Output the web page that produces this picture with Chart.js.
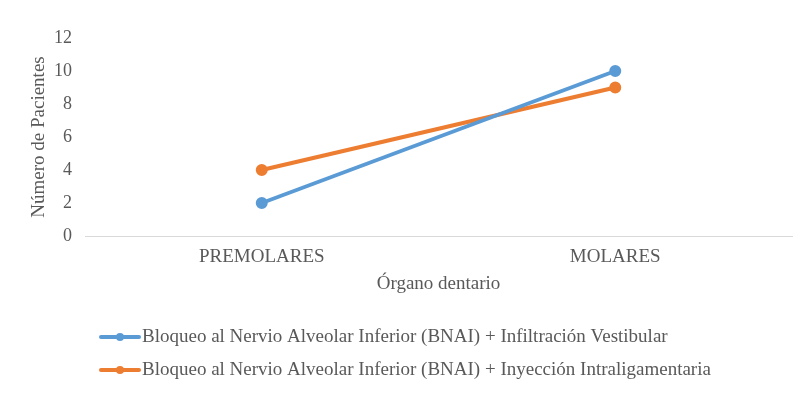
<!DOCTYPE html>
<html>
<head>
<meta charset="utf-8">
<script src="https://cdn.jsdelivr.net/npm/chart.js@4/dist/chart.umd.min.js"></script>
<style>
  html, body { margin: 0; padding: 0; background: #fff; }
  #wrap { width: 808px; height: 395px; }
</style>
</head>
<body>
<div id="wrap"><canvas id="myLineChart"></canvas></div>
<script>
// data
const categories = ["PREMOLARES", "MOLARES"];
const seriesNames = [
  "Bloqueo al Nervio Alveolar Inferior (BNAI) + Infiltración Vestibular",
  "Bloqueo al Nervio Alveolar Inferior (BNAI) + Inyección Intraligamentaria"
];
const infiltracion = [2, 10];
const intraligamentaria = [4, 9];
const yTicks = [0, 2, 4, 6, 8, 10, 12];

const FONT = "'Liberation Serif', 'Times New Roman', serif";
const TEXT = "#595959";

// legend drawn under the plot, one item per row, left aligned
const stackedLegend = {
  id: "stackedLegend",
  afterDraw(chart) {
    const ctx = chart.ctx;
    ctx.save();
    chart.data.datasets.forEach((ds, i) => {
      const y = 337 + i * 33;
      ctx.strokeStyle = ds.borderColor;
      ctx.lineWidth = 4;
      ctx.lineCap = "round";
      ctx.beginPath();
      ctx.moveTo(101, y);
      ctx.lineTo(139, y);
      ctx.stroke();
      ctx.fillStyle = ds.borderColor;
      ctx.beginPath();
      ctx.arc(120, y, 4, 0, Math.PI * 2);
      ctx.fill();
      ctx.fillStyle = TEXT;
      ctx.font = "19px " + FONT;
      ctx.textBaseline = "middle";
      ctx.fillText(ds.label, 142, y);
    });
    ctx.restore();
  }
};

const data = {
  labels: categories,
  datasets: [
    {
      label: seriesNames[0],
      data: infiltracion,
      borderColor: "#5B9BD5",
      backgroundColor: "#5B9BD5",
      borderWidth: 4,
      pointRadius: 4,
      pointHoverRadius: 4,
      fill: false,
    },
    {
      label: seriesNames[1],
      data: intraligamentaria,
      borderColor: "#ED7D31",
      backgroundColor: "#ED7D31",
      borderWidth: 4,
      pointRadius: 4,
      pointHoverRadius: 4,
      fill: false,
    },
  ],
};

const config = {
  type: "line",
  data: data,
  plugins: [stackedLegend],
  options: {
    maintainAspectRatio: false,
    responsive: true,
    animation: false,
    layout: { padding: { top: 38, right: 16, bottom: 95, left: 0 } },
    plugins: {
      legend: { display: false },
      tooltip: { enabled: false },
    },
    scales: {
      x: {
        offset: true,
        grid: { display: false, drawTicks: false },
        border: { display: true, color: "#D9D9D9", width: 1 },
        ticks: { color: TEXT, font: { family: FONT, size: 19 }, padding: 10 },
        title: {
          display: true,
          text: "Órgano dentario",
          color: TEXT,
          font: { family: FONT, size: 19 },
          padding: { top: 4, bottom: 5 },
        },
        afterFit: (s) => { s.height = 64; },
      },
      y: {
        min: 0,
        max: 12,
        afterBuildTicks: (s) => { s.ticks = yTicks.map((v) => ({ value: v })); },
        grid: { display: false, drawTicks: false },
        border: { display: false },
        ticks: { color: TEXT, font: { family: FONT, size: 18 }, padding: 13 },
        title: {
          display: true,
          text: "Número de Pacientes",
          color: TEXT,
          font: { family: FONT, size: 19 },
          padding: { top: 28, bottom: 4 },
        },
        afterFit: (s) => { s.width = 85; },
      },
    },
  },
};

const ctx = document.getElementById("myLineChart").getContext("2d");
const myLineChart = new Chart(ctx, config);
</script>
</body>
</html>
